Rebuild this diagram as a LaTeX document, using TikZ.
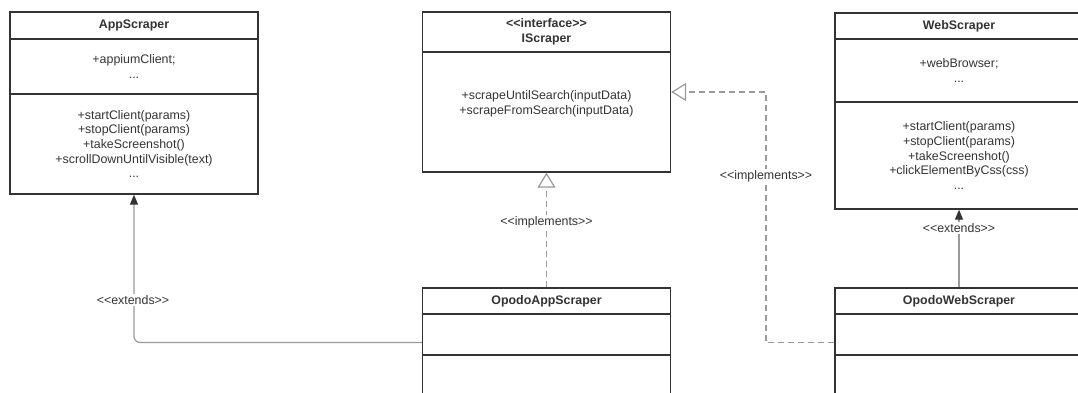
\documentclass[tikz,border=0pt]{standalone}
\usepackage{fontspec}
\setmainfont{Liberation Sans}
\usetikzlibrary{arrows.meta}

\definecolor{umlline}{HTML}{333333}
\definecolor{umlconn}{HTML}{9A9A9A}

\tikzset{
compartment/.style={
  rectangle,
  draw=umlline,
  line width=1.3pt,
  minimum width=248pt,
  align=center,
  inner sep=0pt,
  text=umlline,
  font=\fontsize{12.4}{14.6}\selectfont,
},
connlabel/.style={
  rectangle,
  draw=none,
  fill=white,
  align=center,
  inner sep=1pt,
  text=umlline,
  font=\fontsize{12.4}{14.6}\selectfont,
},
extends/.style={
  draw=umlconn,
  line width=1.2pt,
  -{Triangle[length=10pt,width=8pt,color=umlline]},
},
implements/.style={
  draw=umlconn,
  line width=1.2pt,
  dash pattern=on 6pt off 4pt,
  -{Triangle[open,length=15pt,width=18pt,fill=white]},
},
}

\begin{document}
\begin{tikzpicture}[x=1pt, y=-1pt]
\useasboundingbox (0,0) rectangle (1078,392);
\clip (0,0) rectangle (1078,392);

%AppScraper
\node[compartment, minimum height=27pt](AppTitle) at (134,25.5) {\textbf{AppScraper}};
\node[compartment, minimum height=55pt](AppAttr) at (134,66.5) {+appiumClient;\\...};
\node[compartment, minimum height=100pt](AppMeth) at (134,144) {+startClient(params)\\+stopClient(params)\\+takeScreenshot()\\+scrollDownUntilVisible(text)\\...};

%IScraper
\node[compartment, minimum height=40pt](IScraperTitle) at (546.5,32) {\textbf{{<}{<}interface{>}{>}}\\\textbf{IScraper}};
\node[compartment, minimum height=120pt](IScraperMeth) at (546.5,112) {};
\node[connlabel, fill=none](IScraperText) at (546.5,103.5) {+scrapeUntilSearch(inputData)\\+scrapeFromSearch(inputData)};

%WebScraper
\node[compartment, minimum height=26pt](WebTitle) at (959,26) {\textbf{WebScraper}};
\node[compartment, minimum height=63pt](WebAttr) at (959,70.5) {+webBrowser;\\...};
\node[compartment, minimum height=107pt](WebMeth) at (959,155.5) {+startClient(params)\\+stopClient(params)\\+takeScreenshot()\\+clickElementByCss(css)\\...};

%OpodoAppScraper
\node[compartment, minimum height=26pt](OpodoAppTitle) at (546.5,301) {\textbf{OpodoAppScraper}};
\node[compartment, minimum height=41pt](OpodoAppAttr) at (546.5,334.5) {};
\node[compartment, minimum height=45pt](OpodoAppMeth) at (546.5,377.5) {};

%OpodoWebScraper
\node[compartment, minimum height=26pt](OpodoWebTitle) at (959,301) {\textbf{OpodoWebScraper}};
\node[compartment, minimum height=41pt](OpodoWebAttr) at (959,334.5) {};
\node[compartment, minimum height=45pt](OpodoWebMeth) at (959,377.5) {};

%connectors
\coordinate (implCorner) at (766,92);
\draw[extends, rounded corners=6pt]([yshift=-8pt]OpodoAppAttr.west) -| (AppMeth.south);
\draw[implements](OpodoAppTitle.north) -- (IScraperMeth.south);
\draw[extends](OpodoWebTitle.north) -- (WebMeth.south);
\draw[implements]([yshift=-8pt]OpodoWebAttr.west) -| (implCorner) -- (implCorner -| IScraperMeth.east);

%connector labels
\node[connlabel](appExtends) at (133,300) {{<}{<}extends{>}{>}};
\node[connlabel](appImplements) at (546.5,222) {{<}{<}implements{>}{>}};
\node[connlabel](webExtends) at (959,228) {{<}{<}extends{>}{>}};
\node[connlabel](webImplements) at (766,176) {{<}{<}implements{>}{>}};

\end{tikzpicture}
\end{document}
